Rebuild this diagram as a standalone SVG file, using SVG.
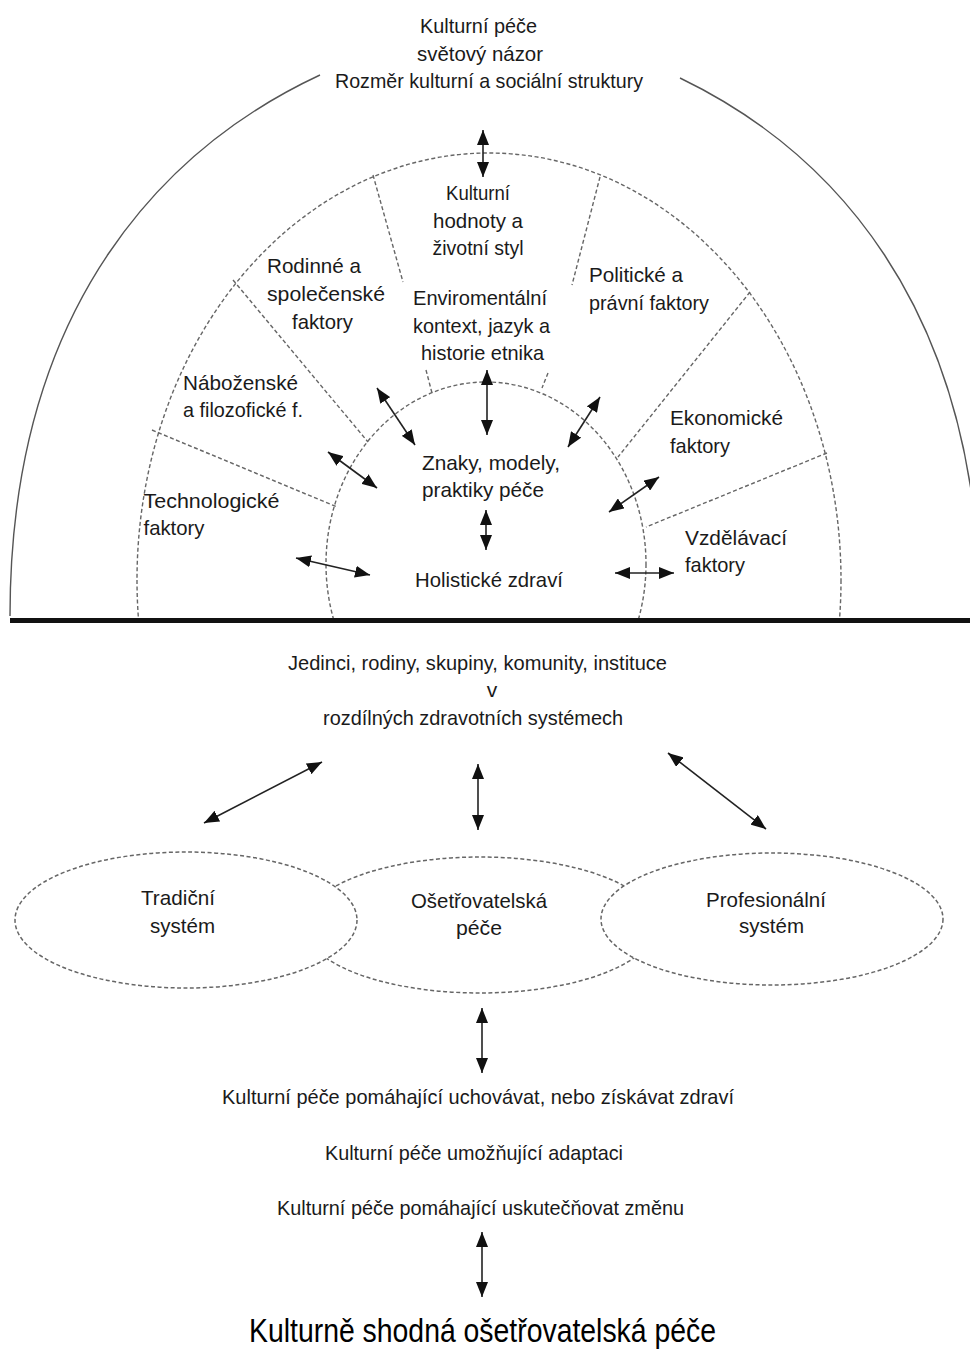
<svg xmlns="http://www.w3.org/2000/svg" width="970" height="1354" viewBox="0 0 970 1354">
<style>
text{font-family:"Liberation Sans",Arial,sans-serif;font-size:21px;fill:#1a1a1a}
.c{text-anchor:middle}
.big{font-size:34px;fill:#000}
.solid{fill:none;stroke:#555;stroke-width:1.4}
.dash{fill:none;stroke:#666;stroke-width:1.4;stroke-dasharray:4 2.5}
.ell{fill:#fff;stroke:#666;stroke-width:1.5;stroke-dasharray:4 2.5}
.arr{stroke:#222;stroke-width:1.6;fill:none;marker-start:url(#ah);marker-end:url(#ah)}
</style>
<defs>
<marker id="ah" markerUnits="userSpaceOnUse" markerWidth="15" markerHeight="12" refX="15" refY="6" orient="auto-start-reverse" viewBox="0 0 15 12">
<path d="M0,0 L15,6 L0,12 z" fill="#111"/>
</marker>
<clipPath id="upper"><rect x="0" y="0" width="970" height="618"/></clipPath>
</defs>
<rect width="970" height="1354" fill="#fff"/>

<g id="rings">
<path class="solid" d="M320,75 C170,145 10,300 10,616"/>
<path class="solid" d="M680,78 C825,148 980,300 980,616"/>
<g clip-path="url(#upper)">
<ellipse class="dash" cx="489" cy="580" rx="352" ry="427"/>
<ellipse class="dash" cx="486" cy="564" rx="160" ry="182"/>
</g>
<path class="dash" d="M373,175 L403,282 M426,370 L432,393"/>
<path class="dash" d="M600,177 L572,285 M548,373 L542,388"/>
<path class="dash" d="M233,280 L368,442"/>
<path class="dash" d="M750,292 L618,457"/>
<path class="dash" d="M152,430 L337,507"/>
<path class="dash" d="M827,453 L646,527"/>
<line x1="10" y1="620.5" x2="970" y2="620.5" stroke="#111" stroke-width="5"/>
</g>

<g id="worldview">
<text class="c" x="478.5" y="33" textLength="117" lengthAdjust="spacingAndGlyphs">Kulturní péče</text>
<text class="c" x="480" y="61" textLength="126" lengthAdjust="spacingAndGlyphs">světový názor</text>
<text class="c" x="489" y="88" textLength="308" lengthAdjust="spacingAndGlyphs">Rozměr kulturní a sociální struktury</text>
</g>
<g id="kulturni-hodnoty">
<text class="c" x="478" y="200" textLength="64" lengthAdjust="spacingAndGlyphs">Kulturní</text>
<text class="c" x="478" y="228" textLength="90" lengthAdjust="spacingAndGlyphs">hodnoty a</text>
<text class="c" x="478" y="255" textLength="91" lengthAdjust="spacingAndGlyphs">životní styl</text>
</g>
<g id="rodinne">
<text x="267" y="273" textLength="94" lengthAdjust="spacingAndGlyphs">Rodinné a</text>
<text x="267" y="301" textLength="118" lengthAdjust="spacingAndGlyphs">společenské</text>
<text x="292" y="329" textLength="61" lengthAdjust="spacingAndGlyphs">faktory</text>
</g>
<g id="politicke">
<text x="589" y="282" textLength="94" lengthAdjust="spacingAndGlyphs">Politické a</text>
<text x="589" y="310" textLength="120" lengthAdjust="spacingAndGlyphs">právní faktory</text>
</g>
<g id="enviromentalni">
<text x="413" y="305" textLength="134" lengthAdjust="spacingAndGlyphs">Enviromentální</text>
<text x="413" y="333" textLength="137" lengthAdjust="spacingAndGlyphs">kontext, jazyk a</text>
<text x="421" y="360" textLength="123" lengthAdjust="spacingAndGlyphs">historie etnika</text>
</g>
<g id="nabozenske">
<text x="183" y="390" textLength="115" lengthAdjust="spacingAndGlyphs">Náboženské</text>
<text x="183" y="417" textLength="120" lengthAdjust="spacingAndGlyphs">a filozofické f.</text>
</g>
<g id="ekonomicke">
<text x="670" y="425" textLength="113" lengthAdjust="spacingAndGlyphs">Ekonomické</text>
<text x="670" y="453" textLength="60" lengthAdjust="spacingAndGlyphs">faktory</text>
</g>
<g id="znaky">
<text x="422" y="470" textLength="138" lengthAdjust="spacingAndGlyphs">Znaky, modely,</text>
<text x="422" y="497" textLength="122" lengthAdjust="spacingAndGlyphs">praktiky péče</text>
</g>
<g id="technologicke">
<text x="143.5" y="508" textLength="136" lengthAdjust="spacingAndGlyphs">Technologické</text>
<text x="143.5" y="535" textLength="61" lengthAdjust="spacingAndGlyphs">faktory</text>
</g>
<g id="vzdelavaci">
<text x="685" y="545" textLength="102" lengthAdjust="spacingAndGlyphs">Vzdělávací</text>
<text x="685" y="572" textLength="60" lengthAdjust="spacingAndGlyphs">faktory</text>
</g>
<g id="holisticke">
<text class="c" x="489" y="587" textLength="148" lengthAdjust="spacingAndGlyphs">Holistické zdraví</text>
</g>

<g id="jedinci">
<text class="c" x="477.5" y="670" textLength="379" lengthAdjust="spacingAndGlyphs">Jedinci, rodiny, skupiny, komunity, instituce</text>
<text class="c" x="492" y="697">v</text>
<text class="c" x="473" y="725" textLength="300" lengthAdjust="spacingAndGlyphs">rozdílných zdravotních systémech</text>
</g>

<g id="osetrovatelska">
<ellipse class="ell" cx="480" cy="925" rx="176" ry="68"/>
<text class="c" x="479" y="908" textLength="136" lengthAdjust="spacingAndGlyphs">Ošetřovatelská</text>
<text class="c" x="479" y="935" textLength="46" lengthAdjust="spacingAndGlyphs">péče</text>
</g>
<g id="tradicni">
<ellipse class="ell" cx="186" cy="920" rx="171" ry="68"/>
<text class="c" x="178" y="905" textLength="74" lengthAdjust="spacingAndGlyphs">Tradiční</text>
<text class="c" x="182.5" y="933" textLength="65" lengthAdjust="spacingAndGlyphs">systém</text>
</g>
<g id="profesionalni">
<ellipse class="ell" cx="772" cy="919" rx="171" ry="66"/>
<text class="c" x="766" y="907" textLength="120" lengthAdjust="spacingAndGlyphs">Profesionální</text>
<text class="c" x="771.5" y="933" textLength="65" lengthAdjust="spacingAndGlyphs">systém</text>
</g>

<g id="rozhodnuti">
<text class="c" x="478" y="1104" textLength="512" lengthAdjust="spacingAndGlyphs">Kulturní péče pomáhající uchovávat, nebo získávat zdraví</text>
<text class="c" x="474" y="1160" textLength="298" lengthAdjust="spacingAndGlyphs">Kulturní péče umožňující adaptaci</text>
<text class="c" x="480.5" y="1215" textLength="407" lengthAdjust="spacingAndGlyphs">Kulturní péče pomáhající uskutečňovat změnu</text>
</g>
<g id="vysledek">
<text class="c big" x="482.5" y="1342" textLength="467" lengthAdjust="spacingAndGlyphs">Kulturně shodná ošetřovatelská péče</text>
</g>

<g id="connectors">
<line class="arr" x1="483" y1="130" x2="483" y2="177"/>
<line class="arr" x1="487" y1="370" x2="487" y2="435"/>
<line class="arr" x1="377" y1="388" x2="415" y2="445"/>
<line class="arr" x1="600" y1="397" x2="568" y2="447"/>
<line class="arr" x1="328" y1="452" x2="377" y2="488"/>
<line class="arr" x1="486" y1="510" x2="486" y2="550"/>
<line class="arr" x1="296" y1="558" x2="370" y2="575"/>
<line class="arr" x1="659" y1="477" x2="609" y2="512"/>
<line class="arr" x1="615" y1="573" x2="674" y2="573"/>
<line class="arr" x1="322" y1="762" x2="204" y2="823"/>
<line class="arr" x1="478" y1="764" x2="478" y2="830"/>
<line class="arr" x1="668" y1="753" x2="766" y2="829"/>
<line class="arr" x1="482" y1="1008" x2="482" y2="1073"/>
<line class="arr" x1="482" y1="1232" x2="482" y2="1297"/>
</g>
</svg>
